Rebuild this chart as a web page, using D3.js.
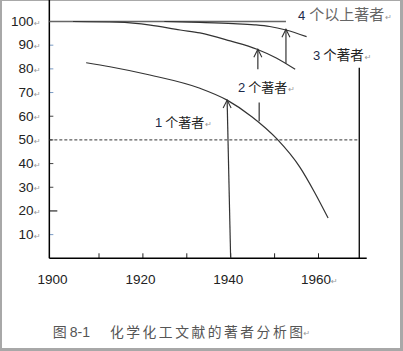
<!DOCTYPE html>
<html>
<head>
<meta charset="utf-8">
<script src="https://cdn.jsdelivr.net/npm/d3@7"></script>
<style>
html, body { margin:0; padding:0; background:#fff; }
svg { display:block; }
</style>
</head>
<body>
<svg id="drawing_region"></svg>
<script>
// values (year, percent)
const yTicks = [10, 20, 30, 40, 50, 60, 70, 80, 90, 100];
const xTicks = [1910, 1920, 1930, 1940, 1950, 1960];
const xLabels = [1900, 1920, 1940, 1960];

const oneAuthor = [[1907.2,82.6],[1912.6,80.9],[1921.7,77.4],[1933.1,71.8],[1939.3,66.8],
                   [1945.0,59.7],[1950.7,50.3],[1955.9,38.4],[1959.3,27.6],[1962.3,17.0]];
const twoAuthors = [[1904.2,100],[1914.3,99.7],[1921.8,98.5],[1928.6,96.4],[1933.1,95.2],
                    [1940.0,91.8],[1946.1,88.3],[1950.5,84.6],[1954.8,79.8]];
const threeAuthors = [[1925.0,100],[1933.1,99.6],[1940.7,99.1],[1945.5,98.6],[1949.0,97.9],
                      [1952.7,96.4],[1957.4,93.6]];

const fullLine = { from:1898.8, to:1952.7, value:100 };
const halfLine = { from:1898.8, to:1969.4, value:50 };
const rightEdge = { year:1969.4, from:0, to:80.5 };

// year, from value, to value, arrow head at the top
const arrows = [
    { x0:1940.1, y0:0,    x1:1939.3, y1:66.8, head:true },
    { x0:1946.6, y0:57.9, x1:1946.6, y1:65.8, head:false },
    { x0:1946.3, y0:79.8, x1:1946.3, y1:88.3, head:true },
    { x0:1952.7, y0:82.3, x1:1952.7, y1:96.7, head:true }
];

const labelNums = ["1", "2", "3", "4"];
const labelTexts = ["个著者", "个著者", "个著者", "个以上著者"];
const captionNum = "图 8-1";
const captionText = "化学化工文献的著者分析图";

class AuthorChart {

    constructor( config ) {
        this.config = {
            parent: config.parent,
            width: config.width || 403,
            height: config.height || 351
        }
        this.init();
    }

    init() {
        let self = this;

        self.svg = d3.select( self.config.parent )
            .attr('width', self.config.width)
            .attr('height', self.config.height);

        self.xscale = d3.scaleLinear()
            .domain( [1900, 1960] )
            .range( [54.6, 318] );

        self.yscale = d3.scaleLinear()
            .domain( [0, 100] )
            .range( [258.3, 21.5] );

        self.line = d3.line()
            .x( d => self.xscale( d[0] ) )
            .y( d => self.yscale( d[1] ) )
            .curve( d3.curveMonotoneX );

        self.num_font = '"Liberation Sans", Arial, sans-serif';
        self.cjk_font = '"Noto Sans CJK SC", sans-serif';
    }

    render() {
        let self = this;
        const x = self.xscale, y = self.yscale;
        const axisX = x(1898.8);

        // frame of the picture
        self.svg.append('rect').attr('x',0).attr('y',0).attr('width',403).attr('height',351).attr('fill','#a8a8a8');
        self.svg.append('rect').attr('x',2).attr('y',1).attr('width',398).attr('height',347).attr('fill','#fff');

        // y ticks (short marks right of the axis)
        const tickColor = d => d == 20 ? '#000' : ([10,70,80,90].includes(d) ? '#7a9cc6' : '#444');
        self.svg.append('g')
            .selectAll('line')
            .data(yTicks)
            .enter()
            .append('line')
            .attr('x1', axisX)
            .attr('x2', d => axisX + (d == 20 ? 8 : 4))
            .attr('y1', d => y(d))
            .attr('y2', d => y(d))
            .attr('stroke', tickColor)
            .attr('stroke-width', 1);

        self.svg.append('g')
            .selectAll('text')
            .data(yTicks)
            .enter()
            .append('text')
            .attr('x', 33.5)
            .attr('y', d => y(d) + 4.3)
            .attr('text-anchor', 'end')
            .attr('font-family', self.num_font)
            .attr('font-size', 13.5)
            .attr('fill', '#222')
            .text(d => d);

        self.mark( 34, yTicks.map(d => y(d) + 4) );

        // x axis ticks pointing up
        const xaxis = d3.axisTop( x )
            .tickValues( xTicks )
            .tickSize( 5 )
            .tickFormat( '' );
        const xg = self.svg.append('g')
            .attr('transform', `translate(0, 258.3)`)
            .call( xaxis );
        xg.select('.domain').remove();
        xg.selectAll('.tick line').attr('stroke', '#222');

        self.svg.append('g')
            .selectAll('text')
            .data(xLabels)
            .enter()
            .append('text')
            .attr('x', d => x(d) - 2)
            .attr('y', 284.3)
            .attr('text-anchor', 'middle')
            .attr('font-family', self.num_font)
            .attr('font-size', 13.5)
            .attr('fill', '#222')
            .text(d => d);
        self.mark( x(1960) + 13, [284] );

        // axes
        self.svg.append('line')
            .attr('x1', axisX).attr('x2', axisX)
            .attr('y1', 0).attr('y2', 258.3)
            .attr('stroke', '#000').attr('stroke-width', 1.5);
        self.svg.append('line')
            .attr('x1', axisX).attr('x2', x(1971.1))
            .attr('y1', 258.3).attr('y2', 258.3)
            .attr('stroke', '#000').attr('stroke-width', 1.5);
        self.svg.append('line')
            .attr('x1', x(rightEdge.year)).attr('x2', x(rightEdge.year))
            .attr('y1', y(rightEdge.from)).attr('y2', y(rightEdge.to))
            .attr('stroke', '#000').attr('stroke-width', 1.3);

        // 50% dashed line
        self.svg.append('line')
            .attr('x1', axisX).attr('x2', x(halfLine.to))
            .attr('y1', y(halfLine.value)).attr('y2', y(halfLine.value))
            .attr('stroke', '#333').attr('stroke-width', 1)
            .attr('stroke-dasharray', '3,2');

        // 100% line
        self.svg.append('line')
            .attr('x1', axisX).attr('x2', x(fullLine.to))
            .attr('y1', y(fullLine.value)).attr('y2', y(fullLine.value))
            .attr('stroke', '#666').attr('stroke-width', 1.4);

        // curves
        self.svg.selectAll('path.curve')
            .data([oneAuthor, twoAuthors, threeAuthors])
            .enter()
            .append('path')
            .attr('class', 'curve')
            .attr('d', d => self.line(d))
            .attr('fill', 'none')
            .attr('stroke', '#333')
            .attr('stroke-width', 1.2);

        // arrows
        const ag = self.svg.append('g');
        arrows.forEach(a => {
            const px0 = x(a.x0), py0 = y(a.y0), px1 = x(a.x1), py1 = y(a.y1);
            ag.append('line')
                .attr('x1', px0).attr('y1', py0).attr('x2', px1).attr('y2', py1)
                .attr('stroke', '#333').attr('stroke-width', 1.2);
            if (a.head) {
                ag.append('path')
                    .attr('d', `M${px1-4},${py1+8}L${px1},${py1}L${px1+4},${py1+8}`)
                    .attr('fill', 'none')
                    .attr('stroke', '#333').attr('stroke-width', 1.1);
            }
        });

        // curve labels
        const lpos = [ [155, 122, 13, '#222'], [238, 87, 13, '#222'], [313, 55, 13.5, '#222'], [298, 15, 15, '#666'] ];
        labelNums.forEach((n, i) => {
            const p = lpos[i];
            const t = self.svg.append('text')
                .attr('x', p[0])
                .attr('y', p[1] + 5);
            t.append('tspan')
                .attr('font-family', self.num_font)
                .attr('font-size', 13)
                .attr('fill', '#1c2a4a')
                .text(n);
            t.append('tspan')
                .attr('dx', i == 3 ? 4 : 3)
                .attr('font-family', self.cjk_font)
                .attr('font-size', p[2])
                .attr('fill', p[3])
                .text(labelTexts[i]);
            t.append('tspan')
                .attr('dx', 1)
                .attr('font-family', '"DejaVu Sans", sans-serif')
                .attr('font-size', 8)
                .attr('fill', '#999')
                .text('↵');
        });

        // caption
        const cap = self.svg.append('text')
            .attr('x', 52.7)
            .attr('y', 337)
            .attr('fill', '#555');
        cap.append('tspan')
            .attr('font-family', self.cjk_font)
            .attr('font-size', 14)
            .text(captionNum.split(' ')[0]);
        cap.append('tspan')
            .attr('dx', 3)
            .attr('font-family', self.num_font)
            .attr('font-size', 14)
            .text(captionNum.split(' ')[1]);
        self.svg.append('text')
            .attr('x', 110)
            .attr('y', 337)
            .attr('fill', '#555')
            .attr('font-family', self.cjk_font)
            .attr('font-size', 13.8)
            .attr('textLength', 193)
            .text(captionText);
        self.mark( 303.5, [336] );
    }

    mark( px, ys ) {
        let self = this;
        self.svg.append('g')
            .selectAll('text')
            .data(ys)
            .enter()
            .append('text')
            .attr('x', px)
            .attr('y', d => d)
            .attr('font-family', '"DejaVu Sans", sans-serif')
            .attr('font-size', 8)
            .attr('fill', '#999')
            .text('↵');
    }
}

let chart = new AuthorChart( { parent: '#drawing_region', width: 403, height: 351 } );
chart.render();
</script>
</body>
</html>
